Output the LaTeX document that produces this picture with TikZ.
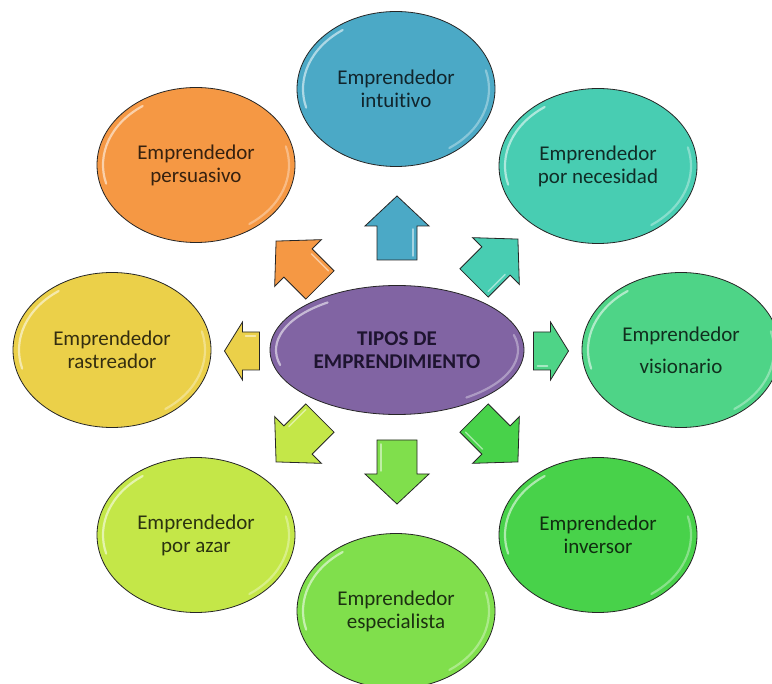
\documentclass[tikz,border=0pt]{standalone}
\usepackage{fontspec}
\setmainfont{Carlito}[Ligatures=CommonOff]
\usetikzlibrary{shapes.geometric}
\definecolor{cBlue}{HTML}{4BA9C6}
\definecolor{cOrange}{HTML}{F59844}
\definecolor{cTeal}{HTML}{48CDB2}
\definecolor{cVision}{HTML}{4ED487}
\definecolor{cInver}{HTML}{48D24A}
\definecolor{cEspec}{HTML}{80DF4C}
\definecolor{cAzar}{HTML}{C4E748}
\definecolor{cRastr}{HTML}{EBD049}
\definecolor{cCenter}{HTML}{8164A3}
\definecolor{cCenterText}{HTML}{1E1430}
\tikzset{
  bub/.style={ellipse, draw=black!85, line width=0.8pt, minimum width=198pt,
    minimum height=155pt, inner sep=0pt, align=center,
    font=\fontsize{21}{23}\selectfont},
  blk/.style={draw=black!85, line width=0.8pt, line join=miter},
  shine/.style={white, opacity=0.55, line width=2.2pt, line cap=round},
}
% ellipse node with glossy highlight: name, cx, cy, colour, text
\newcommand\bubnode[5]{%
  \node[bub, fill=#4, text=#4!22!black] (#1) at (#2,#3) {#5};
  \draw[shine] (#2,#3) ++(165:93 and 72) arc[start angle=165, end angle=235, x radius=93, y radius=72];
  \draw[shine, opacity=0.35] (#2,#3) ++(-15:93 and 72) arc[start angle=-15, end angle=55, x radius=93, y radius=72];
}
% block arrow: colour, cx, cy, angle, length, head length, head halfwidth, shaft halfwidth
\newcommand\blockarr[8]{%
  \begin{scope}[shift={(#2,#3)}, rotate=#4]
    \pgfmathsetmacro\arrA{#5/2}\pgfmathsetmacro\arrB{#5/2-#6}
    \draw[blk, fill=#1] (-\arrA,-#8) -- (\arrB,-#8) -- (\arrB,-#7) -- (\arrA,0)
      -- (\arrB,#7) -- (\arrB,#8) -- (-\arrA,#8) -- cycle;
    \draw[white, opacity=0.5, line width=1.5pt, line cap=round] (-\arrA+4,#8-4) -- (\arrB-3,#8-4);
  \end{scope}}
\begin{document}
\begin{tikzpicture}[x=1pt, y=-1pt]
  \clip (0,0) rectangle (772,684);
  \fill[white] (0,0) rectangle (772,684);

  % arrows
  \blockarr{cBlue}{397}{228}{90}{64}{30}{32}{20}
  \blockarr{cEspec}{397}{472}{-90}{64}{30}{32}{20}
  \blockarr{cRastr}{242}{351}{180}{35}{18}{29}{19}
  \blockarr{cVision}{551}{351}{0}{35}{18}{29}{19}
  \blockarr{cOrange}{298}{263}{135}{62}{31}{33}{20}
  \blockarr{cTeal}{496}{261}{45}{62}{31}{33}{20}
  \blockarr{cInver}{496}{440}{-45}{62}{31}{33}{20}
  \blockarr{cAzar}{298}{440}{-135}{62}{31}{33}{20}

  % centre
  \node[ellipse, draw=black!85, line width=0.8pt, fill=cCenter, minimum width=254pt,
    minimum height=129pt, inner sep=0pt, align=center, text=cCenterText,
    font=\bfseries\fontsize{21}{23}\selectfont] (tipos) at (397,350) {TIPOS DE\\EMPRENDIMIENTO};
  \draw[shine] (397,350) ++(165:121 and 58) arc[start angle=165, end angle=235, x radius=121, y radius=58];
  \draw[shine, opacity=0.35] (397,350) ++(-15:121 and 58) arc[start angle=-15, end angle=55, x radius=121, y radius=58];

  % outer ellipses
  \bubnode{intuitivo}{396}{89}{cBlue}{Emprendedor\\intuitivo}
  \bubnode{persuasivo}{196}{165}{cOrange}{Emprendedor\\persuasivo}
  \bubnode{necesidad}{598}{166}{cTeal}{Emprendedor\\por necesidad}
  \bubnode{visionario}{681}{350}{cVision}{Emprendedor\\[9pt]visionario}
  \bubnode{inversor}{598}{535}{cInver}{Emprendedor\\inversor}
  \bubnode{especialista}{396}{611}{cEspec}{Emprendedor\\especialista}
  \bubnode{azar}{196}{535}{cAzar}{Emprendedor\\por azar}
  \bubnode{rastreador}{112}{350}{cRastr}{Emprendedor\\rastreador}
\end{tikzpicture}
\end{document}
